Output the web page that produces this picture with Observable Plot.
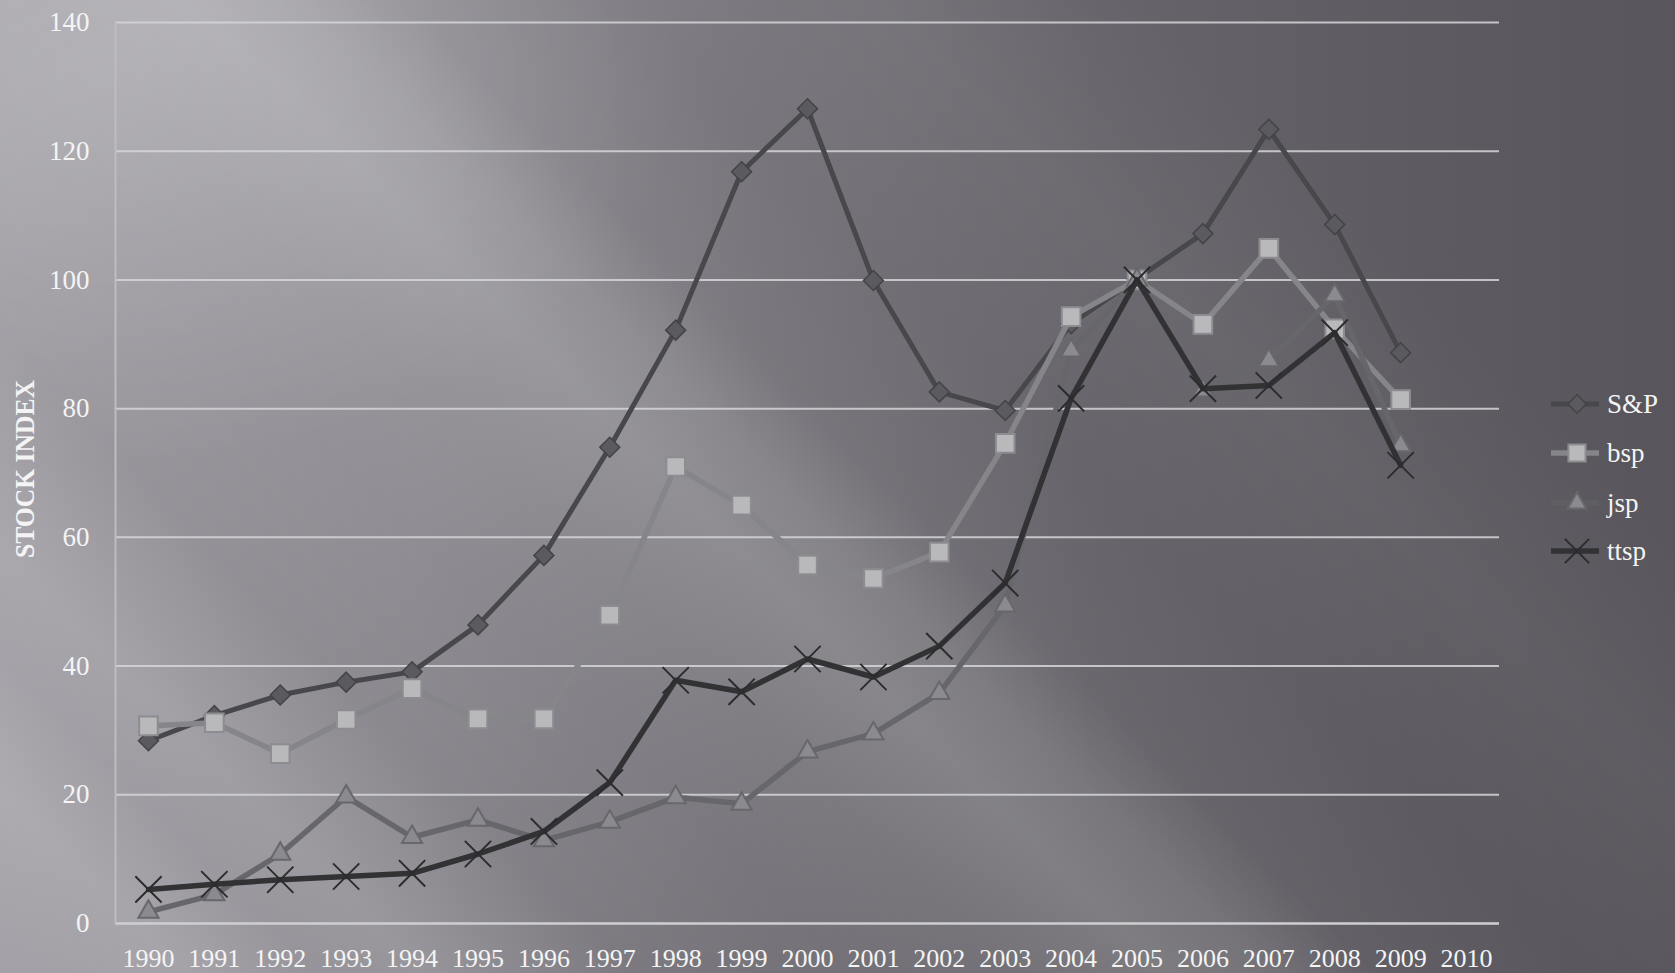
<!DOCTYPE html>
<html>
<head>
<meta charset="utf-8">
<script src="https://cdn.jsdelivr.net/npm/d3@7"></script>
<script src="https://cdn.jsdelivr.net/npm/@observablehq/plot@0.6"></script>
<style>
  html, body { margin: 0; padding: 0; background: #5a585e; }
  #wrap {
    position: relative; width: 1675px; height: 973px; overflow: hidden;
    font-family: "Liberation Serif", "DejaVu Serif", serif;
    background:
      radial-gradient(ellipse 35% 40% at 6% 8%, rgba(255,255,255,0.16), rgba(255,255,255,0) 100%),
      linear-gradient(45deg,
        rgba(255,255,255,0) 0%, rgba(255,255,255,0.11) 7%, rgba(255,255,255,0.02) 12%, rgba(255,255,255,0.08) 16%,
        rgba(0,0,0,0.04) 24%, rgba(255,255,255,0) 32%, rgba(255,255,255,0.06) 38%,
        rgba(255,255,255,0.16) 44%, rgba(255,255,255,0.12) 48%, rgba(255,255,255,0.02) 52%, rgba(255,255,255,0) 60%,
        rgba(255,255,255,0.04) 70%, rgba(255,255,255,0) 80%),
      linear-gradient(90deg, #a3a1a7 0%, #8f8d93 25%, #78767c 45%, #67656b 65%, #5d5b61 85%, #58565c 100%);
  }
  #wrap svg.plot { position: absolute; left: 0; top: 0; background: transparent; }
  #overlay { position: absolute; left: 0; top: 0; pointer-events: none; }
</style>
</head>
<body>
<div id="wrap"></div>
<script>
// ---- data ----
const yearLabels = ["1990","1991","1992","1993","1994","1995","1996","1997","1998","1999","2000",
                    "2001","2002","2003","2004","2005","2006","2007","2008","2009","2010"];
const dataYears = ["1990","1991","1992","1993","1994","1995","1996","1997","1998","1999",
                   "2000","2001","2002","2003","2004","2005","2006","2007","2008","2009"];
const spValues   = [28.4, 32.3, 35.5, 37.5, 39.1, 46.4, 57.2, 74.0, 92.2, 116.8, 126.6, 99.9, 82.6, 79.7, 93.2, 100.2, 107.2, 123.4, 108.6, 88.7];
const bspValues  = [30.7, 31.2, 26.4, 31.7, 36.5, 31.8, 31.8, 47.9, 71.0, 65.0, 55.7, 53.6, 57.7, 74.6, 94.3, 100.0, 93.1, 104.9, 92.4, 81.4];
const jspValues  = [1.8, 4.5, 10.8, 19.7, 13.4, 16.1, 12.9, 15.8, 19.6, 18.6, 26.7, 29.5, 35.8, 49.4, 89.0, 100.0, 82.8, 87.5, 97.6, 74.3];
const ttspValues = [5.3, 6.1, 6.8, 7.3, 7.8, 10.8, 14.3, 21.9, 37.8, 36.0, 41.1, 38.3, 43.1, 52.9, 81.6, 100.0, 83.1, 83.6, 91.8, 71.2];
const seriesNames = ["S&P", "bsp", "jsp", "ttsp"];
const yTicks = [0, 20, 40, 60, 80, 100, 120, 140];
const yAxisTitle = "STOCK INDEX";

// ---- styles ----
const styles = {
  "S&P":  {values: spValues,   line: "#48474b", lineWidth: 5,   symbol: "diamond2", r: 9,    fill: "#5b5a5e", stroke: "#444347", sw: 1.5},
  "bsp":  {values: bspValues,  line: "#868589", lineWidth: 5.5, symbol: "square",   r: 10.5, fill: "#b9b9bb", stroke: "#8d8c90", sw: 2},
  "jsp":  {values: jspValues,  line: "#67666a", lineWidth: 5.5, symbol: "triangle", r: 7.5,  fill: "#8b8a8e", stroke: "#68676b", sw: 2},
  "ttsp": {values: ttspValues, line: "#323235", lineWidth: 5.5, symbol: "times",    r: 12,   fill: "none",    stroke: "#2c2c2e", sw: 2}
};

const rows = seriesNames.flatMap(name =>
  dataYears.map((year, i) => ({series: name, year, value: styles[name].values[i]})));

const marks = [
  Plot.ruleY(yTicks.filter(d => d > 0), {stroke: "#d6d6d9", strokeOpacity: 0.85, strokeWidth: 2}),
  Plot.ruleY([0], {stroke: "#cfcfd2", strokeWidth: 2.5}),
  Plot.frame({anchor: "left", stroke: "#bdbcc0", strokeWidth: 2}),
  Plot.axisX({tickSize: 0, tickPadding: 25, fontSize: 26, fill: "#f4f4f4", label: null}),
  Plot.axisY({ticks: yTicks, tickSize: 0, tickPadding: 26, fontSize: 27, fill: "#f4f4f4", label: null})
];
for (const name of seriesNames) {
  const s = styles[name];
  const data = rows.filter(d => d.series === name);
  marks.push(Plot.line(data, {x: "year", y: "value", stroke: s.line, strokeWidth: s.lineWidth, strokeLinejoin: "round"}));
  marks.push(Plot.dot(data, {x: "year", y: "value", symbol: () => s.symbol, r: s.r,
    fill: s.fill, stroke: s.stroke, strokeWidth: s.sw}));
}

const chart = Plot.plot({
  width: 1675, height: 973,
  marginLeft: 115, marginRight: 176, marginTop: 22, marginBottom: 50,
  style: {background: "transparent", fontFamily: "'Liberation Serif', 'DejaVu Serif', serif"},
  x: {type: "point", domain: yearLabels, padding: 0.5, round: false},
  y: {domain: [0, 140]},
  symbol: {type: "identity"},
  marks
});
chart.classList.add("plot");
const wrap = document.getElementById("wrap");
wrap.appendChild(chart);

// ---- overlay: y-axis title and legend ----
const ov = d3.select(wrap).append("svg").attr("id", "overlay")
  .attr("width", 1675).attr("height", 973);

ov.append("text")
  .attr("transform", "translate(34,469) rotate(-90)")
  .attr("text-anchor", "middle")
  .attr("font-family", "'Liberation Serif', serif")
  .attr("font-size", 28)
  .attr("font-weight", "bold")
  .attr("fill", "#f4f4f4")
  .attr("textLength", 178)
  .attr("lengthAdjust", "spacingAndGlyphs")
  .text(yAxisTitle);

const legendY = [404, 453, 503, 551];
const symMap = {diamond2: d3.symbolDiamond2, square: d3.symbolSquare, triangle: d3.symbolTriangle, times: d3.symbolTimes};
seriesNames.forEach((name, i) => {
  const s = styles[name];
  const g = ov.append("g").attr("transform", `translate(0,${legendY[i]})`);
  g.append("line").attr("x1", 1551).attr("x2", 1599).attr("y1", 0).attr("y2", 0)
    .attr("stroke", s.line).attr("stroke-width", s.lineWidth)
    .attr("stroke-opacity", name === "jsp" ? 0.35 : 1);
  g.append("path").attr("transform", "translate(1577,0)")
    .attr("d", d3.symbol(symMap[s.symbol], Math.PI * s.r * s.r * 0.85)())
    .attr("fill", s.fill).attr("stroke", s.stroke).attr("stroke-width", s.sw);
  g.append("text").attr("x", 1607).attr("y", 0).attr("dy", "0.32em")
    .attr("font-family", "'Liberation Serif', serif")
    .attr("font-size", 27).attr("fill", "#f4f4f4").text(name);
});
</script>
</body>
</html>
